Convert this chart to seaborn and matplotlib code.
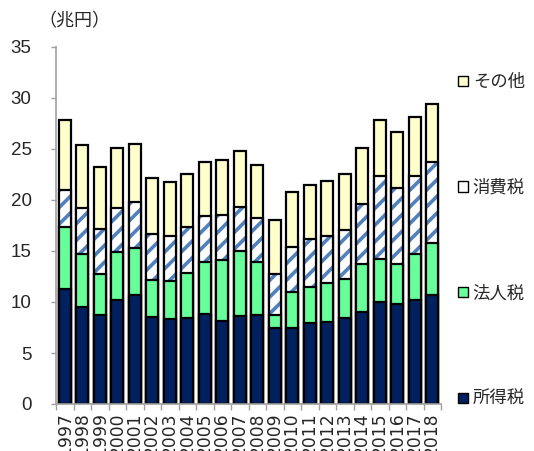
import matplotlib
matplotlib.use("Agg")
import matplotlib.pyplot as plt
import seaborn as sns
import numpy as np
import pandas as pd
from matplotlib.patches import Patch

years = [str(y) for y in range(1997, 2019)]
income = [11.3, 9.5, 8.7, 10.2, 10.7, 8.5, 8.3, 8.4, 8.8, 8.1, 8.6,
          8.7, 7.5, 7.5, 7.9, 8.0, 8.4, 9.05, 10.0, 9.8, 10.2, 10.65]
corporate = [6.1, 5.2, 4.0, 4.7, 4.6, 3.7, 3.8, 4.4, 5.1, 6.0, 6.4,
             5.2, 1.2, 3.45, 3.6, 3.9, 3.85, 4.65, 4.2, 3.95, 4.5, 5.1]
consumption = [3.6, 4.5, 4.5, 4.3, 4.5, 4.5, 4.4, 4.6, 4.5, 4.4, 4.3,
               4.3, 4.0, 4.45, 4.7, 4.6, 4.85, 5.9, 8.15, 7.45, 7.7, 7.95]
other = [6.8, 6.2, 6.0, 5.9, 5.7, 5.5, 5.3, 5.1, 5.3, 5.4, 5.5,
         5.2, 5.3, 5.4, 5.3, 5.4, 5.4, 5.5, 5.45, 5.5, 5.7, 5.7]
labels = ["所得税", "法人税", "消費税", "その他"]
unit_label = "（兆円）"

c_income = "#002060"
c_corp = "#66FF99"
c_cons_hatch = "#4F81BD"
c_other = "#FFFFCC"

df = pd.DataFrame({"year": years, "income": income, "corporate": corporate,
                   "consumption": consumption, "other": other})
df["lvl1"] = df["income"]
df["lvl2"] = df["lvl1"] + df["corporate"]
df["lvl3"] = df["lvl2"] + df["consumption"]
df["lvl4"] = df["lvl3"] + df["other"]

sns.set_theme(style="white")
plt.rcParams["font.family"] = ["Noto Sans CJK JP", "DejaVu Sans"]
plt.rcParams["hatch.linewidth"] = 2.6
plt.rcParams["hatch.color"] = c_cons_hatch

fig = plt.figure(figsize=(5.34, 4.51), dpi=100)
ax = fig.add_axes([56 / 534, 1 - 404 / 451, (441 - 56) / 534, (404 - 47) / 451])

W = 0.68
EW = 1.6
# total (other on top)
sns.barplot(data=df, x="year", y="lvl4", color=c_other, saturation=1,
            width=W, edgecolor="black", linewidth=EW, ax=ax)
# consumption (hatched)
sns.barplot(data=df, x="year", y="lvl3", color="white", saturation=1,
            width=W, edgecolor=c_cons_hatch, linewidth=0, hatch="//", ax=ax)
for p in ax.patches[len(years):]:
    try:
        p.set_hatchcolor(c_cons_hatch)
    except Exception:
        pass
sns.barplot(data=df, x="year", y="lvl3", fill=False, saturation=1,
            width=W, edgecolor="black", linewidth=EW, ax=ax)
# corporate
sns.barplot(data=df, x="year", y="lvl2", color=c_corp, saturation=1,
            width=W, edgecolor="black", linewidth=EW, ax=ax)
# income
sns.barplot(data=df, x="year", y="lvl1", color=c_income, saturation=1,
            width=W, edgecolor="black", linewidth=EW, ax=ax)

ax.set_xlim(-0.5, len(years) - 0.5)
ax.set_ylim(0, 35)
ax.set_yticks(range(0, 36, 5))
ax.set_xlabel("")
ax.set_ylabel("")

for s in ["top", "right"]:
    ax.spines[s].set_visible(False)
for s in ["left", "bottom"]:
    ax.spines[s].set_color("#A0A0A0")
    ax.spines[s].set_linewidth(1.2)

ax.tick_params(axis="y", which="major", left=True, length=3.5, width=1,
               color="#A0A0A0", pad=14, labelsize=13.5)
for t in ax.get_yticklabels():
    t.set_family(["Liberation Sans Narrow", "Liberation Sans", "DejaVu Sans"])

ax.set_xticks(range(len(years)))
ax.set_xticklabels(years, rotation=90, fontsize=12.3, family="DejaVu Sans")
ax.tick_params(axis="x", which="major", bottom=False, length=0, pad=6)
ax.set_xticks(np.arange(-0.5, len(years), 1), minor=True)
ax.tick_params(axis="x", which="minor", bottom=True, length=4, width=1,
               color="#A0A0A0")

fig.text(38 / 534, 1 - 21 / 451, unit_label, fontsize=13, va="center",
         ha="left", family=["Noto Sans CJK JP", "DejaVu Sans"])

handles = [
    Patch(facecolor=c_other, edgecolor="black", linewidth=1),
    Patch(facecolor="white", edgecolor="black", linewidth=1),
    Patch(facecolor=c_corp, edgecolor="black", linewidth=1),
    Patch(facecolor=c_income, edgecolor="black", linewidth=1),
]
leg = fig.legend(handles, labels[::-1], loc="upper left",
                 bbox_to_anchor=(458 / 534, 1 - 73 / 451), frameon=False,
                 fontsize=12.5, handlelength=0.55, handleheight=0.55,
                 handletextpad=0.3, labelspacing=5.05, borderaxespad=0,
                 borderpad=0)

fig.savefig("out.png", dpi=100)
